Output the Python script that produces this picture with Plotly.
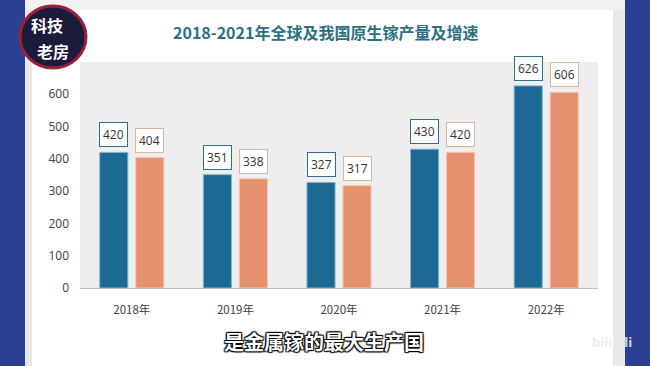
import plotly.graph_objects as go

categories = ["2018年", "2019年", "2020年", "2021年", "2022年"]
global_output = [420, 351, 327, 430, 626]
china_output = [404, 338, 317, 420, 606]
y_ticks = [0, 100, 200, 300, 400, 500, 600, 700]

W, H = 650, 366
L, R, T, B = 80, 52, 62, 78
PW, PH = W - L - R, H - T - B


def px(x):
    return (x - L) / PW


def py(y):
    return (H - B - y) / PH


BLUE = "#1c6a93"
ORANGE = "#e5916d"

fig = go.Figure()
fig.add_trace(go.Bar(
    x=categories, y=global_output, name="全球",
    marker=dict(color=BLUE, line=dict(color="#7fb3cc", width=1)),
    hoverinfo="skip",
))
fig.add_trace(go.Bar(
    x=categories, y=china_output, name="中国",
    marker=dict(color=ORANGE, line=dict(color="#f3c4ad", width=1)),
    hoverinfo="skip",
))

annotations = []
for c, v in zip(categories, global_output):
    annotations.append(dict(
        x=c, y=v, xref="x", yref="y", text=str(v), showarrow=False,
        xshift=-18, yshift=5, yanchor="bottom",
        font=dict(family="Open Sans", size=12, color="#333333"),
        bgcolor="white", bordercolor="#2f6f88", borderwidth=1, borderpad=3,
    ))
for c, v in zip(categories, china_output):
    annotations.append(dict(
        x=c, y=v, xref="x", yref="y", text=str(v), showarrow=False,
        xshift=18, yshift=5, yanchor="bottom",
        font=dict(family="Open Sans", size=12, color="#333333"),
        bgcolor="white", bordercolor="#d8b69c", borderwidth=1, borderpad=3,
    ))

# title
annotations.append(dict(
    x=px(325), y=py(32), xref="paper", yref="paper", showarrow=False,
    text="2018-2021年全球及我国原生镓产量及增速",
    font=dict(family="Noto Sans CJK SC", size=16, color="#2b7183", weight="bold"),
    xanchor="center", yanchor="middle",
))
# logo text
annotations.append(dict(
    x=px(47), y=py(25), xref="paper", yref="paper", showarrow=False,
    text="科技", font=dict(family="Noto Sans CJK SC", size=16, color="white", weight="bold"),
    xanchor="center", yanchor="middle",
))
annotations.append(dict(
    x=px(53), y=py(51), xref="paper", yref="paper", showarrow=False,
    text="老房", font=dict(family="Noto Sans CJK SC", size=16, color="white", weight="bold"),
    xanchor="center", yanchor="middle",
))
# subtitle
annotations.append(dict(
    x=px(324), y=py(341), xref="paper", yref="paper", showarrow=False,
    text="是金属镓的最大生产国",
    font=dict(family="Noto Sans CJK SC", size=20, color="white", weight="bold",
              shadow="1px 1px 1px #000, -1px -1px 1px #000, 1px -1px 1px #000, -1px 1px 1px #000"),
    xanchor="center", yanchor="middle",
))
# watermark
annotations.append(dict(
    x=px(612), y=py(342), xref="paper", yref="paper", showarrow=False,
    text="bilibili", font=dict(family="Open Sans", size=13, color="rgba(235,235,235,0.9)", weight="bold"),
    xanchor="center", yanchor="middle",
))

shapes = [
    dict(type="rect", xref="paper", yref="paper", x0=px(0), x1=px(25), y0=py(H), y1=py(0),
         fillcolor="#2b3f94", line=dict(width=0), layer="below"),
    dict(type="rect", xref="paper", yref="paper", x0=px(625), x1=px(W), y0=py(H), y1=py(0),
         fillcolor="#2b3f94", line=dict(width=0), layer="below"),
    dict(type="rect", xref="paper", yref="paper", x0=px(25), x1=px(32), y0=py(H), y1=py(0),
         fillcolor="#e9e9e9", line=dict(width=0), layer="below"),
    dict(type="rect", xref="paper", yref="paper", x0=px(613), x1=px(625), y0=py(H), y1=py(0),
         fillcolor="#e9e9e9", line=dict(width=0), layer="below"),
    dict(type="rect", xref="paper", yref="paper", x0=px(25), x1=px(625), y0=py(10), y1=py(0),
         fillcolor="#f1f1f1", line=dict(width=0), layer="below"),
    dict(type="circle", xref="paper", yref="paper", x0=px(20), x1=px(86), y0=py(68), y1=py(6),
         fillcolor="#1d1b3c", line=dict(color="#9b2138", width=3), layer="above"),
]

fig.update_layout(
    width=W, height=H,
    margin=dict(l=L, r=R, t=T, b=B, autoexpand=False),
    paper_bgcolor="white",
    plot_bgcolor="#eeeeee",
    barmode="group",
    bargap=0.305,
    bargroupgap=0.22,
    showlegend=False,
    annotations=annotations,
    shapes=shapes,
    xaxis=dict(
        showgrid=False, showline=True, linecolor="#bfbfbf", linewidth=1,
        ticks="", ticklabelstandoff=11,
        tickfont=dict(family="Noto Sans CJK SC", size=11.5, color="#404040"),
    ),
    yaxis=dict(
        range=[0, 700], tickvals=y_ticks, showgrid=False, zeroline=False,
        ticks="", ticklabelstandoff=10,
        tickfont=dict(family="Open Sans", size=12, color="#404040"),
    ),
)

fig.write_html(
    "out.html",
    config={"displayModeBar": False},
    post_script="document.body.style.margin='0';document.body.style.overflow='hidden';",
)
